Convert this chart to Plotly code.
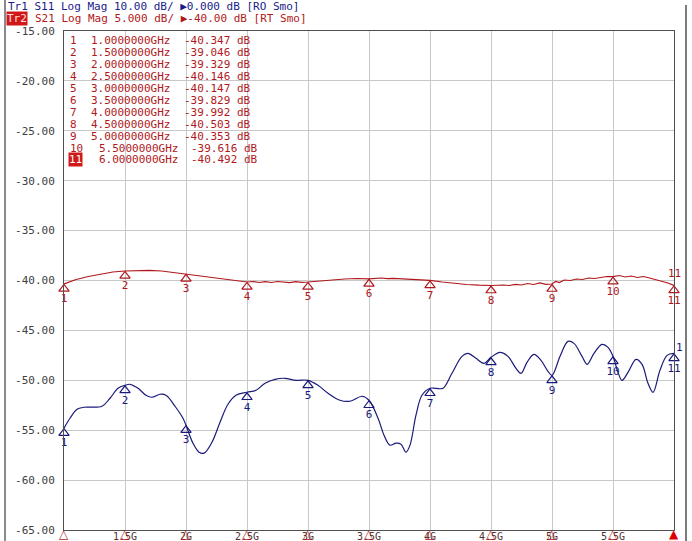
import plotly.graph_objects as go

# ---------------- data ----------------
s21_freq = [1.00, 1.05, 1.10, 1.20, 1.30, 1.40, 1.50, 1.60, 1.70, 1.80, 1.90, 2.00, 2.10, 2.20, 2.30,
            2.40, 2.50, 2.55, 2.60, 2.65, 2.70, 2.75, 2.80, 2.85, 2.90, 2.95, 3.00, 3.10, 3.20, 3.30,
            3.40, 3.50, 3.60, 3.65, 3.70, 3.80, 3.90, 4.00, 4.10, 4.20, 4.30, 4.40, 4.50, 4.60, 4.65,
            4.70, 4.75, 4.80, 4.85, 4.90, 4.95, 5.00, 5.03, 5.06, 5.10, 5.15, 5.20, 5.25, 5.30, 5.35,
            5.40, 5.45, 5.50, 5.55, 5.60, 5.65, 5.70, 5.75, 5.80, 5.85, 5.90, 5.95, 6.00]
s21_db = [-40.35, -40.10, -39.90, -39.60, -39.35, -39.15, -39.05, -39.00, -38.98, -39.05, -39.20, -39.33,
          -39.50, -39.70, -39.85, -40.00, -40.15, -40.10, -40.20, -40.12, -40.20, -40.10, -40.15, -40.22,
          -40.12, -40.18, -40.15, -40.05, -39.90, -39.85, -39.80, -39.83, -39.75, -39.82, -39.78, -39.85,
          -39.90, -39.99, -40.15, -40.30, -40.40, -40.47, -40.50, -40.45, -40.50, -40.38, -40.45, -40.30,
          -40.40, -40.25, -40.38, -40.35, -40.10, -40.20, -39.95, -40.00, -39.85, -39.90, -39.75, -39.80,
          -39.70, -39.60, -39.62, -39.50, -39.65, -39.55, -39.70, -39.60, -39.75, -39.90, -40.10, -40.25,
          -40.49]

s11_freq = [1.000, 1.049, 1.107, 1.164, 1.311, 1.377, 1.443, 1.500, 1.541, 1.607, 1.672, 1.721, 1.787,
            1.836, 1.910, 1.975, 2.000, 2.057, 2.107, 2.148, 2.213, 2.279, 2.344, 2.410, 2.500, 2.574,
            2.648, 2.730, 2.811, 2.902, 3.000, 3.082, 3.164, 3.262, 3.344, 3.443, 3.500, 3.574, 3.623,
            3.672, 3.721, 3.762, 3.803, 3.836, 3.885, 3.934, 4.000, 4.049, 4.107, 4.180, 4.262, 4.311,
            4.377, 4.443, 4.500, 4.574, 4.639, 4.705, 4.746, 4.795, 4.852, 4.910, 4.967, 5.000, 5.066,
            5.131, 5.180, 5.246, 5.287, 5.344, 5.410, 5.459, 5.500, 5.541, 5.574, 5.623, 5.689, 5.738,
            5.787, 5.828, 5.885, 5.943, 6.000]
s11_db = [-54.8, -53.8, -52.9, -52.7, -52.6, -51.8, -50.8, -50.5, -50.4, -50.8, -51.5, -51.7, -51.4,
          -51.5, -52.6, -53.8, -54.5, -56.3, -57.2, -57.3, -56.2, -54.2, -52.4, -51.5, -51.2, -51.0,
          -50.3, -49.9, -49.8, -50.0, -50.0, -50.5, -51.3, -52.0, -52.1, -51.6, -52.0, -53.8, -55.5,
          -56.5, -56.3, -56.4, -57.2, -56.5, -53.5, -51.5, -50.8, -50.8, -50.8, -49.3, -47.6, -47.3,
          -47.8, -48.3, -47.7, -47.2, -47.6, -48.8, -49.3, -48.2, -47.4, -48.0, -49.1, -49.5, -47.6,
          -46.1, -46.3, -47.6, -48.4, -47.3, -46.4, -46.7, -47.6, -49.2, -50.0, -49.2, -47.9, -48.4,
          -50.3, -51.2, -49.0, -47.5, -47.3]

marker_ids = ["1", "2", "3", "4", "5", "6", "7", "8", "9", "10", "11"]
marker_freq = [1.0, 1.5, 2.0, 2.5, 3.0, 3.5, 4.0, 4.5, 5.0, 5.5, 6.0]
marker_freq_txt = ["1.0000000", "1.5000000", "2.0000000", "2.5000000", "3.0000000", "3.5000000",
                   "4.0000000", "4.5000000", "5.0000000", "5.5000000", "6.0000000"]
s21_marker_db = [-40.347, -39.046, -39.329, -40.146, -40.147, -39.829, -39.992, -40.503, -40.353,
                 -39.616, -40.492]
s11_marker_db = [-54.8, -50.5, -54.5, -51.2, -50.0, -52.0, -50.8, -47.7, -49.5, -47.6, -47.3]

y_tickvals = [-15, -20, -25, -30, -35, -40, -45, -50, -55, -60, -65]
y_ticktext = ["-15.00", "-20.00", "-25.00", "-30.00", "-35.00", "-40.00", "-45.00", "-50.00",
              "-55.00", "-60.00", "-65.00"]
x_tickvals = [1.0, 1.5, 2.0, 2.5, 3.0, 3.5, 4.0, 4.5, 5.0, 5.5, 6.0]
x_ticktext = ["", "1.5G", "2G", "2.5G", "3G", "3.5G", "4G", "4.5G", "5G", "5.5G", ""]

header1 = "Tr1 S11 Log Mag 10.00 dB/ \u25b60.000 dB [RO Smo]"
header2 = "S21 Log Mag 5.000 dB/ \u25b6-40.00 dB [RT Smo]"

# ---------------- styles ----------------
RED = "#B0181C"
BLUE = "#1A1A7A"
MONO = "DejaVu Sans Mono"
Y_MIN, Y_MAX = -65, -15
X_MIN, X_MAX = 1.0, 6.0

L, R, T, B = 64, 18, 31, 11
W, H = 692, 541
PW, PH = W - L - R, H - T - B


def px(xp):
    return (xp - L) / PW


def py(yp):
    return 1 - (yp - T) / PH


fig = go.Figure()

fig.add_trace(go.Scatter(x=s21_freq, y=s21_db, mode="lines",
                         line=dict(color=RED, width=1.2), hoverinfo="skip"))
fig.add_trace(go.Scatter(x=s11_freq, y=s11_db, mode="lines", line_shape="spline",
                         line=dict(color=BLUE, width=1.2), hoverinfo="skip"))

# marker triangles on traces
for vals, col in ((s21_marker_db, RED), (s11_marker_db, BLUE)):
    fig.add_trace(go.Scatter(x=marker_freq, y=[v - 0.5 for v in vals], mode="markers",
                             marker=dict(symbol="triangle-up-open", size=9, color=col,
                                         line=dict(width=1.2, color=col)),
                             cliponaxis=False, hoverinfo="skip"))
    fig.add_trace(go.Scatter(x=marker_freq, y=[v - 1.55 for v in vals], mode="text",
                             text=marker_ids, textfont=dict(family=MONO, size=11, color=col),
                             cliponaxis=False, hoverinfo="skip"))

# reference position arrow (left) and active marker arrow (right)
fig.add_trace(go.Scatter(x=[X_MIN - 0.035], y=[-40], mode="markers",
                         marker=dict(symbol="triangle-right", size=11, color="#E00000"),
                         cliponaxis=False, hoverinfo="skip"))
fig.add_trace(go.Scatter(x=[X_MAX + 0.04], y=[s21_marker_db[-1]], mode="markers",
                         marker=dict(symbol="triangle-left", size=11, color="#E00000"),
                         cliponaxis=False, hoverinfo="skip"))

annotations = []
# headers
annotations.append(dict(x=px(6), y=py(7), xref="paper", yref="paper", text=header1,
                        showarrow=False, xanchor="left", yanchor="middle",
                        font=dict(family=MONO, size=11, color="#1A1A8C")))
annotations.append(dict(x=px(6), y=py(18), xref="paper", yref="paper", text="Tr2",
                        showarrow=False, xanchor="left", yanchor="middle", bgcolor="#D01818",
                        borderpad=0, font=dict(family=MONO, size=11, color="#FFE0E0")))
annotations.append(dict(x=px(33), y=py(18), xref="paper", yref="paper", text=header2,
                        showarrow=False, xanchor="left", yanchor="middle",
                        font=dict(family=MONO, size=11, color=RED)))

# x tick labels (drawn as annotations to sit tight under the axis)
for xv, tt in zip(x_tickvals, x_ticktext):
    if tt:
        annotations.append(dict(x=xv, y=py(536.5), xref="x", yref="paper", text=tt,
                                showarrow=False, xanchor="center", yanchor="middle",
                                font=dict(family=MONO, size=10, color="#503030")))

# stimulus markers along the bottom axis
for i, xv in enumerate(marker_freq):
    last = i == len(marker_freq) - 1
    annotations.append(dict(x=xv, y=py(534), xref="x", yref="paper",
                            text="\u25b2" if last else "\u25b3", showarrow=False,
                            xanchor="center", yanchor="middle",
                            font=dict(family="DejaVu Sans", size=12,
                                      color="#E00000" if last else RED)))

# marker table
for i in range(len(marker_ids)):
    yy = py(40.7 + i * 11.93)
    wide = len(marker_ids[i]) > 1
    if i == len(marker_ids) - 1:
        annotations.append(dict(x=px(68), y=yy, xref="paper", yref="paper", text=marker_ids[i],
                                showarrow=False, xanchor="left", yanchor="middle",
                                bgcolor="#D01818", borderpad=0,
                                font=dict(family=MONO, size=11, color="white")))
    else:
        annotations.append(dict(x=px(68), y=yy, xref="paper", yref="paper", text=marker_ids[i],
                                showarrow=False, xanchor="left", yanchor="middle",
                                font=dict(family=MONO, size=11, color=RED)))
    annotations.append(dict(x=px(97 if wide else 89), y=yy, xref="paper", yref="paper",
                            text=marker_freq_txt[i] + "GHz", showarrow=False, xanchor="left",
                            yanchor="middle", font=dict(family=MONO, size=11, color=RED)))
    annotations.append(dict(x=px(189 if wide else 182), y=yy, xref="paper", yref="paper",
                            text="%.3f dB" % s21_marker_db[i], showarrow=False, xanchor="left",
                            yanchor="middle", font=dict(family=MONO, size=11, color=RED)))

# extra labels above the last markers
annotations.append(dict(x=X_MAX, y=s21_marker_db[-1], text="11", showarrow=False, yshift=12,
                        font=dict(family=MONO, size=11, color=RED)))
annotations.append(dict(x=X_MAX, y=s11_marker_db[-1], text="1", showarrow=False, yshift=6,
                        xshift=5, font=dict(family=MONO, size=11, color=BLUE)))

shapes = [
    dict(type="line", xref="paper", yref="paper", x0=px(5), x1=px(5), y0=py(0), y1=py(541),
         line=dict(color="#8A8A8A", width=2)),
    dict(type="line", xref="paper", yref="paper", x0=px(686), x1=px(686), y0=py(5), y1=py(541),
         line=dict(color="#505050", width=1.5)),
]

fig.update_layout(
    width=W, height=H,
    margin=dict(l=L, r=R, t=T, b=B, autoexpand=False),
    paper_bgcolor="white", plot_bgcolor="white",
    showlegend=False,
    annotations=annotations,
    shapes=shapes,
    xaxis=dict(range=[X_MIN, X_MAX], tickvals=x_tickvals, showticklabels=False,
               showgrid=True, gridcolor="#C8C8C8", gridwidth=1, zeroline=False,
               showline=True, linecolor="#505050", linewidth=1, mirror=True,
               ticks="", automargin=False),
    yaxis=dict(range=[Y_MIN, Y_MAX], tickvals=y_tickvals, ticktext=y_ticktext,
               showgrid=True, gridcolor="#C8C8C8", gridwidth=1, zeroline=False,
               showline=True, linecolor="#505050", linewidth=1, mirror=True,
               ticks="", ticklabelstandoff=6, automargin=False,
               tickfont=dict(family=MONO, size=11, color="#404040")),
)

fig.write_html("out.html")
